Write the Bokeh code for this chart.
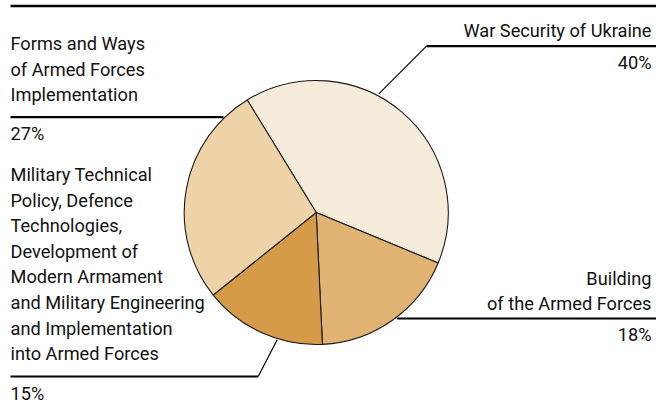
import math
from bokeh.plotting import figure
from bokeh.models import Range1d
from bokeh.core.properties import value
from bokeh.embed import file_html
from bokeh.resources import INLINE

# ---- data ----
categories = ["War Security of Ukraine", "Building of the Armed Forces",
              "Military Technical Policy", "Forms and Ways of Armed Forces Implementation"]
shares = [40, 18, 15, 27]
pct_labels = ["40%", "18%", "15%", "27%"]
colors = ["#f4ebda", "#e0b373", "#d59b48", "#edd3a7"]

label_war = ["War Security of Ukraine"]
label_building = ["Building", "of the Armed Forces"]
label_military = ["Military Technical", "Policy, Defence", "Technologies,",
                  "Development of", "Modern Armament", "and Military Engineering",
                  "and Implementation", "into Armed Forces"]
label_forms = ["Forms and Ways", "of Armed Forces", "Implementation"]

W, H = 656, 410
FONT = value("Roboto")
FS = "18.2px"
TXT = "#111111"
SHIFT = -7.5

def Y(y):
    return H - y

p = figure(width=W, height=H, output_backend="svg", toolbar_location=None,
           x_range=Range1d(0, W), y_range=Range1d(0, H), min_border=0)
p.axis.visible = False
p.grid.visible = False
p.outline_line_color = None
p.background_fill_color = "white"

# top rule
p.line([10, W], [Y(5.5), Y(5.5)], line_color="black", line_width=2.5)

# pie geometry
cx, cy, r = 315.7, 212, 132
theta0 = -31.5  # clockwise degrees from top where first slice starts
starts, ends = [], []
acc = 0
for s in shares:
    t0 = theta0 + 3.6 * acc
    acc += s
    t1 = theta0 + 3.6 * acc
    starts.append(math.radians(90 - t1))
    ends.append(math.radians(90 - t0))

# leader lines (behind pie)
p.line([378.3, 426], [Y(93.3), Y(45.7)], line_color="black", line_width=1.2)
p.line([426, W], [Y(45.7), Y(45.7)], line_color="black", line_width=2.2)
p.line([W, 396.7], [Y(318), Y(318)], line_color="black", line_width=2.2)
p.line([276.7, 257.7], [Y(339.3), Y(376)], line_color="black", line_width=1.2)
p.line([257.7, 10], [Y(376), Y(376)], line_color="black", line_width=2.2)
p.line([10, 223], [Y(116.7), Y(116.7)], line_color="black", line_width=2.2)

p.wedge(x=[cx] * 4, y=[Y(cy)] * 4, radius=r, start_angle=starts, end_angle=ends,
        fill_color=colors, line_color="#1a1a1a", line_width=1.1)

def lines(texts, x, y0, dy, align):
    p.text(x=[x] * len(texts), y=[Y(y0 + SHIFT + i * dy) for i in range(len(texts))], text=texts,
           text_font=FONT, text_font_size=FS, text_color=TXT,
           text_align=align, text_baseline="alphabetic")

lines(label_war, 651, 37.5, 25.6, "right")
lines([pct_labels[0]], 651, 69.3, 25.6, "right")
lines(label_building, 651, 285, 25.3, "right")
lines([pct_labels[1]], 651, 341.7, 25.6, "right")
lines(label_military, 10, 181.7, 25.57, "left")
lines([pct_labels[2]], 10, 400, 25.6, "left")
lines(label_forms, 10, 50.3, 25.7, "left")
lines([pct_labels[3]], 10, 140.5, 25.6, "left")

open("out.html", "w").write(file_html(p, INLINE))
